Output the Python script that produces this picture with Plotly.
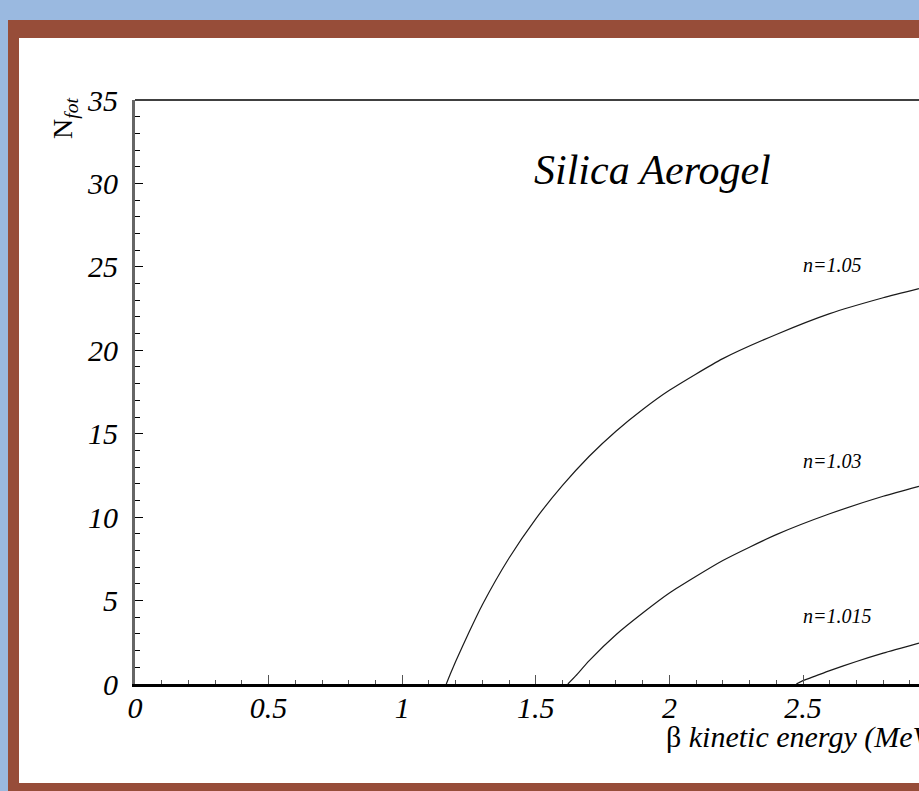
import plotly.graph_objects as go

# Curves (beta kinetic energy in MeV, N_fot)
x_n105 = [1.165, 1.18, 1.20, 1.25, 1.30, 1.40, 1.50, 1.60, 1.70, 1.80, 1.90, 2.00, 2.20, 2.40, 2.60, 2.80, 2.934]
y_n105 = [0.0, 0.6, 1.35, 3.1, 4.75, 7.55, 9.9, 11.9, 13.65, 15.15, 16.45, 17.6, 19.5, 20.95, 22.2, 23.15, 23.7]

x_n103 = [1.62, 1.65, 1.70, 1.80, 1.90, 2.00, 2.20, 2.40, 2.60, 2.80, 2.934]
y_n103 = [0.0, 0.5, 1.4, 2.95, 4.25, 5.45, 7.4, 8.95, 10.2, 11.25, 11.85]

x_n1015 = [2.475, 2.50, 2.55, 2.60, 2.70, 2.80, 2.934]
y_n1015 = [0.0, 0.2, 0.5, 0.8, 1.35, 1.85, 2.45]

curve_labels = ["n=1.05", "n=1.03", "n=1.015"]
label_y = [25.1, 13.35, 4.1]
label_x = 2.493

title_text = "Silica Aerogel"
x_ticks = [0, 0.5, 1, 1.5, 2, 2.5]
x_ticktext = ["0", "0.5", "1", "1.5", "2", "2.5"]
y_ticks = [0, 5, 10, 15, 20, 25, 30, 35]

W, H = 919, 791
L, R, T, B = 135, 0, 100, 107
pw, ph = W - L - R, H - T - B


def px(xp):
    return (xp - L) / pw


def py(yp):
    return (H - B - yp) / ph


serif = "Liberation Serif, Times New Roman, serif"

fig = go.Figure()
for xs, ys in [(x_n105, y_n105), (x_n103, y_n103), (x_n1015, y_n1015)]:
    fig.add_trace(go.Scatter(x=xs, y=ys, mode="lines",
                             line=dict(color="#1a1a1a", width=1.2, shape="spline", smoothing=0.6),
                             showlegend=False, hoverinfo="skip"))

shapes = [
    dict(type="rect", xref="paper", yref="paper", x0=px(8), x1=px(940), y0=py(20), y1=py(800),
         fillcolor="#974d39", line=dict(width=0), layer="below"),
    dict(type="rect", xref="paper", yref="paper", x0=px(19), x1=px(940), y0=py(38), y1=py(783),
         fillcolor="white", line=dict(width=0), layer="below"),
    dict(type="line", xref="paper", yref="paper", x0=0, x1=1.01, y0=1, y1=1,
         line=dict(color="black", width=1.3)),
]

annotations = [
    dict(text=title_text, x=1.935, y=30.8, xref="x", yref="y", showarrow=False,
         font=dict(family=serif, size=42, color="black", style="italic")),
    dict(text="N<sub><i>fot</i></sub>", x=px(65), y=py(119), xref="paper", yref="paper",
         xanchor="center", yanchor="middle",
         textangle=-90, showarrow=False, font=dict(family=serif, size=28, color="black")),
    dict(text="β <i>kinetic energy (MeV)</i>", x=px(664), y=py(737), xref="paper", yref="paper",
         xanchor="left", yanchor="middle", showarrow=False,
         font=dict(family=serif, size=30, color="black")),
]
for t, ly in zip(curve_labels, label_y):
    annotations.append(dict(text=t, x=label_x, y=ly, xref="x", yref="y", xanchor="left",
                            showarrow=False,
                            font=dict(family=serif, size=20, color="black", style="italic")))

fig.update_layout(
    width=W, height=H,
    margin=dict(l=L, r=R, t=T, b=B),
    paper_bgcolor="#9ab9e0",
    plot_bgcolor="white",
    shapes=shapes,
    annotations=annotations,
    xaxis=dict(range=[0, (W - L) / 267.2], tickvals=x_ticks, ticktext=x_ticktext,
               ticks="inside", ticklen=9, tickwidth=1, tickcolor="#555",
               minor=dict(dtick=0.1, tick0=0, ticks="inside", ticklen=4, tickcolor="#555"),
               showgrid=False, zeroline=False, showline=True, linecolor="black", linewidth=2.5,
               tickfont=dict(family=serif, size=30, color="black", style="italic"),
               ticklabelstandoff=-5, fixedrange=True),
    yaxis=dict(range=[0, 35], tickvals=y_ticks,
               ticks="inside", ticklen=8, tickwidth=1, tickcolor="black",
               minor=dict(dtick=1, tick0=0, ticks="inside", ticklen=5, tickcolor="black"),
               showgrid=False, zeroline=False, showline=True, linecolor="#666", linewidth=3,
               tickfont=dict(family=serif, size=30, color="black", style="italic"),
               ticklabelstandoff=8, fixedrange=True),
)

fig.write_html("out.html")
